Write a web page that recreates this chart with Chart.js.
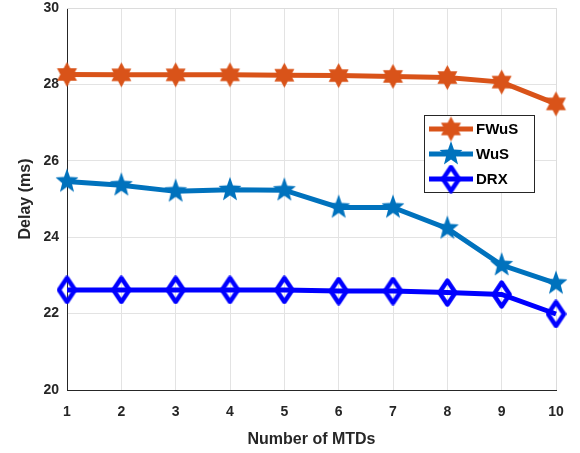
<!DOCTYPE html>
<html>
<head>
<meta charset="utf-8">
<script src="https://cdn.jsdelivr.net/npm/chart.js@4"></script>
<style>
  html, body { margin: 0; padding: 0; background: #fff; }
  #wrap { width: 580px; height: 453px; }
</style>
</head>
<body>
<div id="wrap"><canvas id="myChart" width="580" height="453"></canvas></div>
<script>
// data
var mtds = [1, 2, 3, 4, 5, 6, 7, 8, 9, 10];
var fwus = [28.26, 28.25, 28.25, 28.25, 28.24, 28.23, 28.21, 28.18, 28.06, 27.49];
var wus = [25.46, 25.36, 25.20, 25.24, 25.23, 24.78, 24.78, 24.23, 23.27, 22.79];
var drx = [22.62, 22.62, 22.62, 22.62, 22.62, 22.59, 22.59, 22.55, 22.50, 21.99];
var seriesNames = ['FWuS', 'WuS', 'DRX'];
var yTicks = [20, 22, 24, 26, 28, 30];

var orange = '#D95319';
var steel = '#0072BD';
var blue = '#0000FF';
var font = '"Liberation Sans", Arial, sans-serif';

// marker images
function starMarker(points, inner, w, h, color) {
  var c = document.createElement('canvas');
  c.width = w; c.height = h;
  var g = c.getContext('2d');
  var R = Math.min(w, h) / 2 - 1;
  g.beginPath();
  for (var i = 0; i < points * 2; i++) {
    var r = (i % 2 === 0) ? R : R * inner;
    var a = -Math.PI / 2 + i * Math.PI / points;
    var px = w / 2 + r * Math.cos(a);
    var py = h / 2 + r * Math.sin(a) * (h / w);
    if (i === 0) g.moveTo(px, py); else g.lineTo(px, py);
  }
  g.closePath();
  g.fillStyle = color;
  g.fill();
  return c;
}

function diamondMarker(w, h, color) {
  var c = document.createElement('canvas');
  c.width = w; c.height = h;
  var g = c.getContext('2d');
  g.beginPath();
  g.moveTo(w / 2, 2.5);
  g.lineTo(w - 2.5, h / 2);
  g.lineTo(w / 2, h - 2.5);
  g.lineTo(2.5, h / 2);
  g.closePath();
  g.strokeStyle = color;
  g.lineWidth = 4.5;
  g.lineJoin = 'round';
  g.stroke();
  return c;
}

var hexMark = starMarker(6, 0.58, 25, 27, orange);
var pentMark = starMarker(5, 0.42, 26, 28, steel);
var diaMark = diamondMarker(21, 29, blue);
var marks = [hexMark, pentMark, diaMark];
var colors = [orange, steel, blue];

// legend drawn inside the plot, MATLAB style
var boxLegend = {
  id: 'boxLegend',
  afterDatasetsDraw: function (chart) {
    var g = chart.ctx;
    var x0 = 424, y0 = 115, w = 110, h = 77;
    g.save();
    g.fillStyle = '#fff';
    g.fillRect(x0, y0, w, h);
    g.strokeStyle = '#262626';
    g.lineWidth = 1;
    g.strokeRect(x0 + 0.5, y0 + 0.5, w, h);
    for (var i = 0; i < 3; i++) {
      var yy = y0 + 14 + i * 25;
      g.strokeStyle = colors[i];
      g.lineWidth = 5;
      g.beginPath();
      g.moveTo(x0 + 5, yy);
      g.lineTo(x0 + 49, yy);
      g.stroke();
      g.drawImage(marks[i], x0 + 27 - marks[i].width / 2, yy - marks[i].height / 2);
      g.fillStyle = '#000';
      g.font = 'bold 15px ' + font;
      g.textBaseline = 'middle';
      g.fillText(seriesNames[i], x0 + 52, yy + 1);
    }
    g.restore();
  }
};

// top and right box lines
var boxLines = {
  id: 'boxLines',
  beforeDatasetsDraw: function (chart) {
    var a = chart.chartArea;
    var g = chart.ctx;
    g.save();
    g.strokeStyle = '#dcdcdc';
    g.lineWidth = 1;
    g.beginPath();
    g.moveTo(a.left, a.top + 0.5);
    g.lineTo(a.right + 0.5, a.top + 0.5);
    g.lineTo(a.right + 0.5, a.bottom);
    g.stroke();
    g.restore();
  }
};

var ctx = document.getElementById('myChart').getContext('2d');
var datasets = [fwus, wus, drx].map(function (vals, i) {
  return {
    label: seriesNames[i],
    data: mtds.map(function (m, k) { return { x: m, y: vals[k] }; }),
    borderColor: colors[i],
    backgroundColor: colors[i],
    borderWidth: 5,
    pointStyle: marks[i],
    pointRadius: 12,
    pointHoverRadius: 12,
    tension: 0
  };
});

var myChart = new Chart(ctx, {
  type: 'line',
  data: { datasets: datasets },
  plugins: [boxLines, boxLegend],
  options: {
    responsive: false,
    animation: false,
    clip: false,
    layout: { autoPadding: false, padding: { top: 0, right: 24, left: 0, bottom: 0 } },
    plugins: { legend: { display: false }, tooltip: { enabled: false } },
    scales: {
      x: {
        type: 'linear',
        min: 1,
        max: 10,
        afterBuildTicks: function (axis) { axis.ticks = mtds.map(function (v) { return { value: v }; }); },
        afterFit: function (axis) { axis.height = 63; },
        grid: { color: '#e3e3e3', drawTicks: false },
        border: { color: '#262626', width: 1 },
        ticks: { color: '#262626', padding: 14, maxRotation: 0, font: { family: font, size: 14, weight: 'bold' } },
        title: { display: true, text: 'Number of MTDs', color: '#262626', padding: { top: 4 }, font: { family: font, size: 16, weight: 'bold' } }
      },
      y: {
        min: 20,
        max: 30,
        afterBuildTicks: function (axis) { axis.ticks = yTicks.map(function (v) { return { value: v }; }); },
        afterFit: function (axis) {
          axis.width = 67;
          axis.paddingTop = 8;
          axis.paddingBottom = 0;
        },
        grid: { color: '#e3e3e3', drawTicks: false },
        border: { color: '#262626', width: 1 },
        ticks: { color: '#262626', padding: 8, font: { family: font, size: 14, weight: 'bold' } },
        title: { display: true, text: 'Delay (ms)', color: '#262626', padding: { top: 16, bottom: 4 }, font: { family: font, size: 16, weight: 'bold' } }
      }
    }
  }
});
</script>
</body>
</html>
